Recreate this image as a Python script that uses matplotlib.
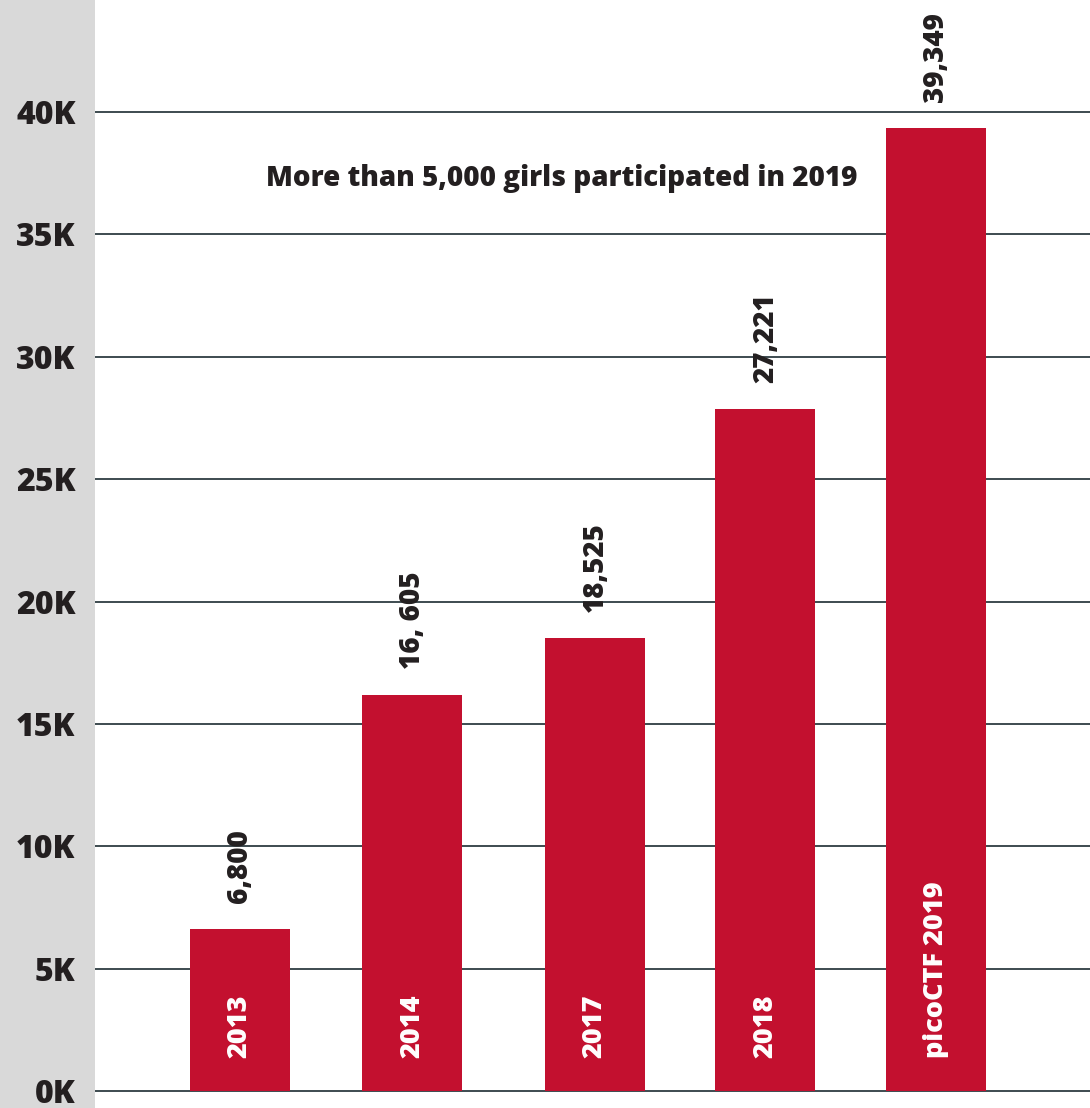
import matplotlib
matplotlib.use("Agg")
import matplotlib.pyplot as plt
import matplotlib.ticker as mticker
from matplotlib.patches import Rectangle

# ---- data ----
editions = ["2013", "2014", "2017", "2018", "picoCTF 2019"]
participants_k = [6.62, 16.18, 18.5, 27.87, 39.35]   # bar heights
value_labels = ["6,800", "16, 605", "18,525", "27,221", "39,349"]
y_ticks = [0, 5, 10, 15, 20, 25, 30, 35, 40]
note = "More than 5,000 girls participated in 2019"

RED = "#c3102f"
INK = "#231f20"
GRID = "#3d4b50"
WEIGHT = 800

plt.rcParams["font.family"] = ["Open Sans", "DejaVu Sans"]

W, H = 1090, 1108
fig = plt.figure(figsize=(W / 100, H / 100), dpi=100)
fig.patch.set_facecolor("white")

# grey strip behind the y tick labels
fig.patches.append(Rectangle((0, 0), 95 / W, 1, transform=fig.transFigure,
                             facecolor="#d9d9d9", edgecolor="none", zorder=-5))

ax = fig.add_axes([95 / W, 0, 1 - 95 / W, 1])
ax.set_facecolor("none")

slots = [0, 0.99, 2.04, 3.02, 4.0]  # bar positions along x
ax.bar(slots, participants_k, width=0.575, color=RED, zorder=3)

for xi, h, lab, ed in zip(slots, participants_k, value_labels, editions):
    ax.annotate(lab, (xi, h), xytext=(0, 19), textcoords="offset points",
                rotation=90, ha="center", va="bottom", fontsize=20,
                fontweight=WEIGHT, color=INK, zorder=4)
    ax.annotate(ed, (xi, 0), xytext=(0, 24), textcoords="offset points",
                rotation=90, ha="center", va="bottom", fontsize=19.5,
                fontweight=WEIGHT, color="white", zorder=4)

ax.text(1.85, 37.3, note, ha="center", va="center", fontsize=20,
        fontweight=WEIGHT, color=INK)

ax.set_xlim(-0.833, 4.885)
ax.set_ylim(-0.695, 44.58)
ax.set_yticks(y_ticks)
ax.yaxis.set_major_formatter(mticker.FuncFormatter(lambda v, _: f"{v:.0f}K"))
ax.set_xticks([])
ax.tick_params(axis="y", length=0, pad=14, labelsize=23, labelcolor=INK)
for t in ax.get_yticklabels():
    t.set_fontweight(WEIGHT)
ax.grid(axis="y", color=GRID, linewidth=1.4, zorder=1)
ax.set_axisbelow(True)
for s in ax.spines.values():
    s.set_visible(False)

fig.savefig("out.png", dpi=100)
